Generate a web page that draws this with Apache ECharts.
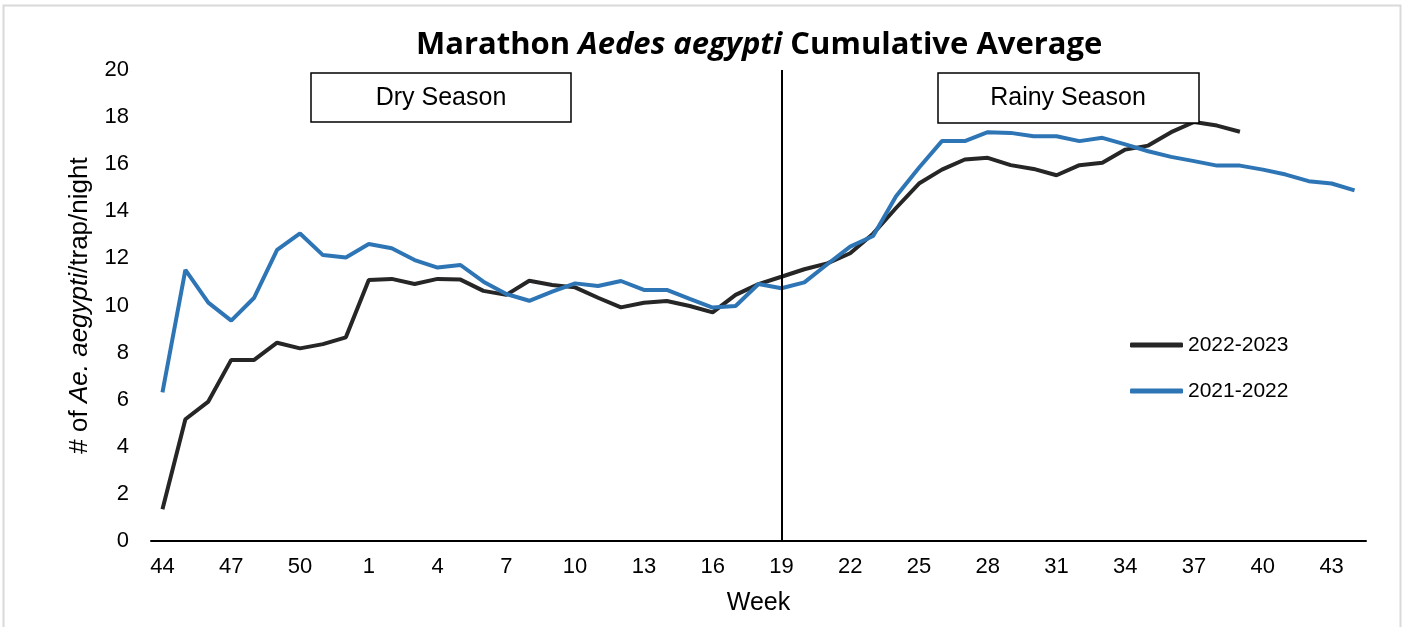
<!DOCTYPE html>
<html>
<head>
<meta charset="utf-8">
<script src="https://cdn.jsdelivr.net/npm/echarts@6/dist/echarts.min.js"></script>
<style>
html, body { margin: 0; padding: 0; background: #fff; }
#chart { width: 1405px; height: 627px; }
</style>
</head>
<body>
<div id="chart"></div>
<script>
// weeks 44..52 then 1..44
var weeks = ['44','45','46','47','48','49','50','51','52',
	'1','2','3','4','5','6','7','8','9','10','11','12','13','14','15','16','17','18','19','20',
	'21','22','23','24','25','26','27','28','29','30','31','32','33','34','35','36','37','38','39','40',
	'41','42','43','44'];

var avg2022_2023 = [1.35, 5.17, 5.92, 7.69, 7.69, 8.42, 8.18, 8.36, 8.65,
	11.08, 11.13, 10.91, 11.13, 11.10, 10.62, 10.45, 11.05, 10.87, 10.77, 10.33,
	9.92, 10.12, 10.19, 9.98, 9.71, 10.45, 10.91, 11.22, 11.54, 11.79,
	12.22, 13.05, 14.14, 15.18, 15.77, 16.20, 16.27, 15.96, 15.80, 15.53,
	15.96, 16.06, 16.62, 16.79, 17.36, 17.79, 17.64, 17.38];

var avg2021_2022 = [6.31, 11.51, 10.12, 9.36, 10.33, 12.36, 13.06, 12.14, 12.04,
	12.61, 12.43, 11.93, 11.61, 11.72, 11.01, 10.49, 10.20, 10.59, 10.94, 10.83,
	11.04, 10.66, 10.66, 10.28, 9.91, 9.98, 10.91, 10.73, 10.98, 11.75,
	12.50, 12.95, 14.64, 15.85, 16.98, 16.98, 17.36, 17.33, 17.19, 17.19,
	16.98, 17.12, 16.84, 16.55, 16.31, 16.13, 15.94, 15.94, 15.77, 15.56,
	15.28, 15.18, 14.89];

var seasonSplitWeek = '19';

var font = 'Liberation Sans, Arial, sans-serif';
var chart = echarts.init(document.getElementById('chart'));

var option = {
	animation: false,
	title: {
		text: '{b|Marathon }{bi|Aedes aegypti}{b| Cumulative Average}',
		left: 411,
		top: 25,
		textStyle: {
			rich: {
				b: { fontFamily: 'Open Sans', fontWeight: 'bold', fontSize: 31, color: '#000' },
				bi: { fontFamily: 'Open Sans', fontWeight: 'bold', fontStyle: 'italic', fontSize: 31, color: '#000' }
			}
		}
	},
	legend: {
		orient: 'vertical',
		left: 1125,
		top: 329,
		icon: 'roundRect',
		itemWidth: 53,
		itemHeight: 5,
		itemGap: 24,
		data: ['2022-2023', '2021-2022'],
		textStyle: { fontFamily: font, fontSize: 21, color: '#000', lineHeight: 22 }
	},
	grid: { left: 151, right: 39, top: 70, bottom: 86 },
	xAxis: {
		type: 'category',
		data: weeks,
		boundaryGap: true,
		name: 'Week',
		nameLocation: 'middle',
		nameGap: 50,
		nameTextStyle: { fontFamily: font, fontSize: 25, color: '#000' },
		axisLine: { lineStyle: { color: '#000', width: 2 } },
		axisTick: { show: false },
		axisLabel: { interval: 2, margin: 15, fontFamily: font, fontSize: 22, color: '#000' },
		splitLine: { show: false }
	},
	yAxis: {
		type: 'value',
		min: 0,
		max: 20,
		interval: 2,
		name: '{n|# of }{i|Ae. aegypti}{n|/trap/night}',
		nameLocation: 'middle',
		nameGap: 58,
		nameTextStyle: {
			rich: {
				n: { fontFamily: font, fontSize: 26, color: '#000' },
				i: { fontFamily: font, fontSize: 26, fontStyle: 'italic', color: '#000' }
			}
		},
		axisLine: { show: false },
		axisTick: { show: false },
		axisLabel: { margin: 22, fontFamily: font, fontSize: 22, color: '#000' },
		splitLine: { show: false }
	},
	series: [
		{
			name: '2022-2023',
			type: 'line',
			data: avg2022_2023,
			symbol: 'none',
			lineStyle: { color: '#262626', width: 4 },
			itemStyle: { color: '#262626' },
			markLine: {
				silent: true,
				symbol: 'none',
				label: { show: false },
				lineStyle: { color: '#000', width: 2, type: 'solid' },
				data: [{ xAxis: seasonSplitWeek }]
			}
		},
		{
			name: '2021-2022',
			type: 'line',
			data: avg2021_2022,
			symbol: 'none',
			lineStyle: { color: '#2E75B6', width: 4 },
			itemStyle: { color: '#2E75B6' }
		}
	],
	graphic: [
		{
			type: 'rect',
			shape: { x: 3.5, y: 5.5, width: 1397, height: 640 },
			style: { fill: 'none', stroke: '#d9d9d9', lineWidth: 2 },
			silent: true
		},
		{
			type: 'rect',
			shape: { x: 311, y: 73, width: 260, height: 49 },
			style: { fill: '#fff', stroke: '#000', lineWidth: 1.5 },
			z: 10
		},
		{
			type: 'text',
			x: 441, y: 98,
			style: { text: 'Dry Season', fontFamily: font, fontSize: 25, fill: '#000', textAlign: 'center', textVerticalAlign: 'middle' },
			z: 11
		},
		{
			type: 'rect',
			shape: { x: 938, y: 73, width: 261, height: 50 },
			style: { fill: '#fff', stroke: '#000', lineWidth: 1.5 },
			z: 10
		},
		{
			type: 'text',
			x: 1068, y: 98,
			style: { text: 'Rainy Season', fontFamily: font, fontSize: 25, fill: '#000', textAlign: 'center', textVerticalAlign: 'middle' },
			z: 11
		}
	]
};

chart.setOption(option);
</script>
</body>
</html>
